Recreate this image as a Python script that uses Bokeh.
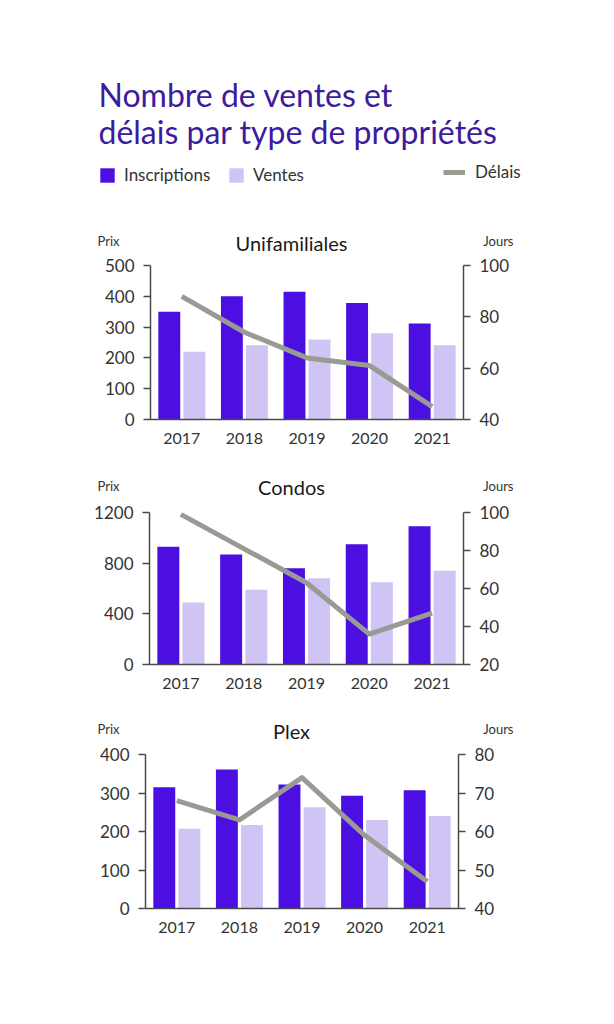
from bokeh.plotting import figure
from bokeh.models import (FactorRange, Range1d, LinearAxis, Label, Legend,
                          LegendItem, ColumnDataSource)
from bokeh.transform import dodge
from bokeh.layouts import column
from bokeh.embed import file_html
from bokeh.resources import INLINE

# ---------------- data ----------------
years = ["2017", "2018", "2019", "2020", "2021"]

uni_inscriptions = [350, 400, 415, 378, 312]
uni_ventes = [220, 241, 260, 280, 241]
uni_delais = [88, 74, 64, 61, 45]

condo_inscriptions = [930, 868, 760, 950, 1092]
condo_ventes = [490, 590, 680, 650, 740]
condo_delais = [99, 81, 63, 36, 47]

plex_inscriptions = [315, 361, 322, 293, 307]
plex_ventes = [207, 217, 263, 230, 240]
plex_delais = [68, 63, 74, 59, 47]

uni_left_ticks = [0, 100, 200, 300, 400, 500]
uni_right_ticks = [40, 60, 80, 100]
condo_left_ticks = [0, 400, 800, 1200]
condo_right_ticks = [20, 40, 60, 80, 100]
plex_left_ticks = [0, 100, 200, 300, 400]
plex_right_ticks = [40, 50, 60, 70, 80]

title_lines = ["Nombre de ventes et", "délais par type de propriétés"]
legend_labels = ["Inscriptions", "Ventes", "Délais"]
left_unit = "Prix"
right_unit = "Jours"

# ---------------- style ----------------
INS = "#4b0fe1"
VEN = "#cfc4f4"
GREY = "#9a9a94"
TITLE = "#3b1c9e"
AXIS = "#4a4a4a"
TXT = "#333333"
FONT = "Lato"
W = 614
NAN = float("nan")
SHIFT = 0.33  # baseline correction, in em


def no_align(p):
    if "frame_align" in p.properties():
        p.frame_align = False
    return p


def blank(height):
    p = figure(width=W, height=height, x_range=Range1d(0, W),
               y_range=Range1d(height, 0), output_backend="svg",
               toolbar_location=None, min_border=0, x_axis_type=None,
               y_axis_type=None, outline_line_color=None)
    p.grid.visible = False
    return no_align(p)


def text_at(p, x, baseline, text, size, color, align="left"):
    p.add_layout(Label(x=x, y=baseline - SHIFT * size, text=text,
                       text_align=align, text_baseline="alphabetic",
                       text_font=FONT, text_font_size=f"{size}px",
                       text_color=color))


def caption(name, height, base_unit, base_name):
    c = blank(height)
    text_at(c, 291, base_name, name, 20, "#1a1a1a", "center")
    text_at(c, 97, base_unit, left_unit, 13, TXT, "left")
    text_at(c, 513, base_unit, right_unit, 13, TXT, "right")
    return c


def make_chart(ins, ven, dl, lticks, rticks, height, top, bottom, left, right):
    src = ColumnDataSource(dict(year=years, ins=ins, ven=ven, dl=dl))
    p = figure(width=W, height=height, x_range=FactorRange(*years),
               y_range=Range1d(lticks[0], lticks[-1]), output_backend="svg",
               toolbar_location=None, min_border_top=top,
               min_border_bottom=bottom, min_border_left=left,
               min_border_right=right, outline_line_color=None)
    no_align(p)
    p.extra_y_ranges = {"days": Range1d(rticks[0], rticks[-1])}
    p.vbar(x=dodge("year", -0.2, range=p.x_range), top="ins", width=0.35,
           source=src, fill_color=INS, line_color=None)
    p.vbar(x=dodge("year", 0.2, range=p.x_range), top="ven", width=0.35,
           source=src, fill_color=VEN, line_color=None)
    p.line(x="year", y="dl", source=src, y_range_name="days",
           line_width=5, line_color=GREY, line_join="round")

    rax = LinearAxis(y_range_name="days", ticker=rticks)
    p.add_layout(rax, "right")
    lax = p.yaxis[0]
    lax.ticker = lticks
    for ax in (lax, rax):
        ax.axis_line_color = AXIS
        ax.axis_line_width = 1.5
        ax.major_tick_line_color = AXIS
        ax.major_tick_line_width = 1.5
        ax.major_tick_in = 0
        ax.major_tick_out = 7
        ax.minor_tick_line_color = None
        ax.major_label_text_font = FONT
        ax.major_label_text_font_size = "17px"
        ax.major_label_text_color = TXT
        ax.major_label_standoff = 9
    xa = p.xaxis[0]
    xa.axis_line_color = AXIS
    xa.axis_line_width = 1.5
    xa.major_tick_line_color = None
    xa.minor_tick_line_color = None
    xa.major_label_text_font = FONT
    xa.major_label_text_font_size = "16px"
    xa.major_label_text_color = TXT
    xa.major_label_standoff = 7
    p.xgrid.visible = False
    p.ygrid.visible = False
    return p


# ---------------- header ----------------
HH = 200
h = blank(HH)
text_at(h, 98, 105, title_lines[0], 32, TITLE)
text_at(h, 98, 142, title_lines[1], 32, TITLE)

# legend-only renderers (no visible marks)
r_ins = h.vbar(x=[NAN], top=[NAN], width=1, fill_color=INS, line_color=None)
r_ven = h.vbar(x=[NAN], top=[NAN], width=1, fill_color=VEN, line_color=None)
r_del = h.line(x=[NAN], y=[NAN], line_width=5, line_color=GREY)


def add_legend(r, label, x, y, gw, standoff):
    lg = Legend(items=[LegendItem(label=label, renderers=[r])], location=(x, y),
                orientation="horizontal", padding=0, margin=0, spacing=0,
                border_line_color=None, background_fill_alpha=0,
                glyph_width=gw, glyph_height=18, label_height=18,
                label_standoff=standoff, label_text_font=FONT,
                label_text_font_size="17px", label_text_color=TXT)
    h.add_layout(lg)


add_legend(r_ins, legend_labels[0], 98, HH - 185, 18, 8)
add_legend(r_ven, legend_labels[1], 227, HH - 185, 18, 8)
add_legend(r_del, legend_labels[2], 443, HH - 182, 22, 10)

# ---------------- charts ----------------
c1 = caption("Unifamiliales", 55, 45, 49)
p1 = make_chart(uni_inscriptions, uni_ventes, uni_delais,
                uni_left_ticks, uni_right_ticks, 215, 10, 51, 150, 151)
c2 = caption("Condos", 32, 20, 23)
p2 = make_chart(condo_inscriptions, condo_ventes, condo_delais,
                condo_left_ticks, condo_right_ticks, 210, 10, 48, 149, 151)
c3 = caption("Plex", 32, 21, 25)
p3 = make_chart(plex_inscriptions, plex_ventes, plex_delais,
                plex_left_ticks, plex_right_ticks, 280, 10, 116, 145, 156)

layout = column(h, c1, p1, c2, p2, c3, p3, spacing=0)
open("out.html", "w").write(file_html(layout, INLINE))
